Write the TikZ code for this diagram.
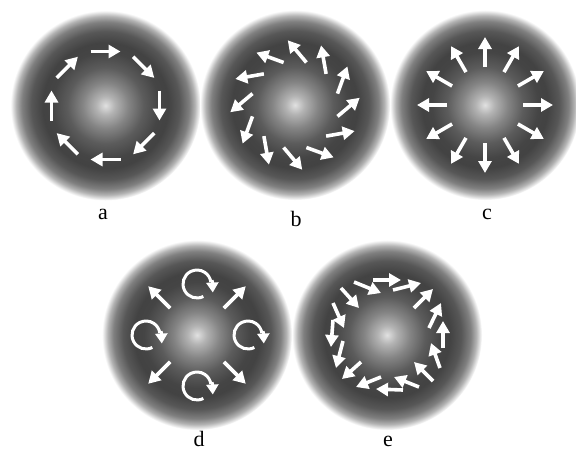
\documentclass[tikz,border=0pt]{standalone}
\usepackage{fontspec}
\setmainfont{Liberation Serif}
\usetikzlibrary{calc,arrows.meta}
\definecolor{g0}{gray}{0.88}
\definecolor{g1}{gray}{0.70}
\definecolor{g2}{gray}{0.52}
\definecolor{g3}{gray}{0.36}
\definecolor{g4}{gray}{0.27}
\definecolor{g5}{gray}{0.26}
\definecolor{g6}{gray}{0.34}
\definecolor{g7}{gray}{0.50}
\definecolor{g8}{gray}{0.70}
\definecolor{g9}{gray}{0.90}
\pgfdeclareradialshading{sphere}{\pgfpoint{0bp}{0bp}}{%
color(0bp)=(g0); color(2.5bp)=(g1); color(6bp)=(g2); color(10bp)=(g3);
color(14bp)=(g4); color(16.5bp)=(g5); color(19.5bp)=(g6); color(22bp)=(g7);
color(23.5bp)=(g8); color(24.5bp)=(g9); color(25bp)=(white); color(50bp)=(white)}
\tikzset{
  ball/.style={circle, inner sep=0pt, minimum size=190pt, shading=sphere},
  wa/.style={draw=white, line width=3.6pt, -{Triangle[length=12pt,width=13pt]}},
  wline/.style={draw=white, line width=3pt},
  lab/.style={font=\fontsize{22}{24}\selectfont, anchor=base, inner sep=0pt},
}
\begin{document}
\begin{tikzpicture}[x=1pt,y=-1pt]
\useasboundingbox (0,0) rectangle (576,451);
\fill[white] (0,0) rectangle (576,451);
% spheres
\node[ball] (a) at (105.5,105.5) {};
\node[ball] (b) at (295,105) {};
\node[ball] (c) at (485,105) {};
\node[ball] (d) at (197,335) {};
\node[ball] (e) at (387,335) {};
% labels
\node[lab] (la) at (103,219) {a};
\node[lab] (lb) at (296,226.5) {b};
\node[lab] (lc) at (487,219) {c};
\node[lab] (ld) at (199,446) {d};
\node[lab] (le) at (388,446) {e};
% a: tangential ring
\foreach \p [evaluate=\p as \q using \p+90, evaluate=\p as \r using \p-90] in {0,45,...,315}
  \draw[wa] ($(a)+(\p:54)+(\r:15)$) -- ($(a)+(\p:54)+(\q:15)$);
% b: spiral
\foreach \p [evaluate=\p as \q using \p-55] in {15,45,...,345}
  \draw[wa] ($(b)+(\p:44)$) -- ($(b)+(\p:44)+(\q:29)$);
% c: radial
\foreach \p in {0,30,...,330}
  \draw[wa] ($(c)+(\p:38)$) -- ($(c)+(\p:68)$);
% d: diagonal arrows and circular arrows
\foreach \p in {45,135,225,315}
  \draw[wa] ($(d)+(\p:38)$) -- ($(d)+(\p:69)$);
\foreach \p in {0,90,180,270}{
  \coordinate (r\p) at ($(d)+(\p:51)$);
  \draw[wline] ($(r\p)+(63:14)$) arc[start angle=63, end angle=352, radius=14];
  \draw[draw=white, line width=3pt, -{Triangle[length=10pt,width=12pt]}] ($(r\p)+(15.2,-4)$) -- ($(r\p)+(15.8,8.5)$);
}
% e: irregular ring
\draw[wa] (354,282) -- (381,293);
\draw[wa] (373,280) -- (401,280);
\draw[wa] (393,290) -- (421,283);
\draw[wa] (414,308) -- (433,289);
\draw[wa] (429,328) -- (441,303);
\draw[wa] (443,348) -- (443,321);
\draw[wa] (440,368) -- (431,343);
\draw[wa] (433,381) -- (414,362);
\draw[wa] (419,387) -- (394,377);
\draw[wa] (403,390) -- (376,389);
\draw[wa] (381,377) -- (356,387);
\draw[wa] (361,362) -- (342,379);
\draw[wa] (343,341) -- (336,368);
\draw[wa] (333,320) -- (331,347);
\draw[wa] (333,303) -- (344,328);
\draw[wa] (341,288) -- (359,308);
\end{tikzpicture}
\end{document}
